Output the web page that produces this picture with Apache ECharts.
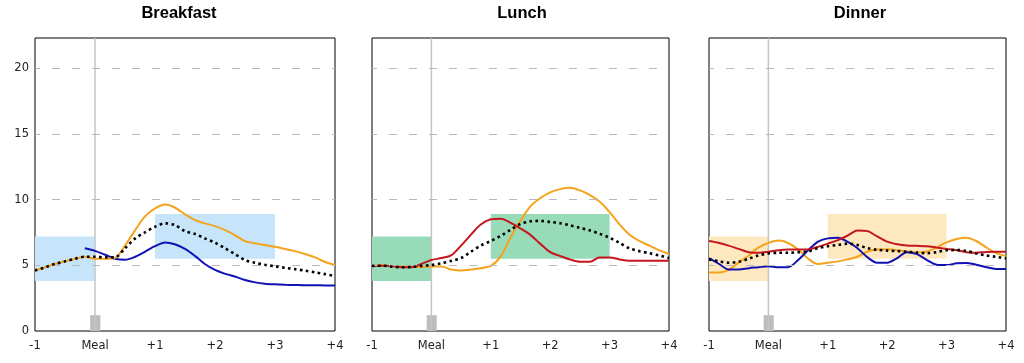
<!DOCTYPE html>
<html><head><meta charset="utf-8">
<script src="https://cdn.jsdelivr.net/npm/echarts@6/dist/echarts.min.js"></script>
<style>html,body{margin:0;padding:0;background:#fff}#c{width:1024px;height:363px}</style>
</head><body><div id="c"></div>
<script>
// ---- data ----
const times = [-1, -0.83, -0.67, -0.5, -0.33, -0.17, 0, 0.17, 0.33, 0.5, 0.67, 0.83, 1, 1.17, 1.33, 1.5, 1.67, 1.83, 2, 2.17, 2.33, 2.5, 2.67, 2.83, 3, 3.17, 3.33, 3.5, 3.67, 3.83, 4];
const xTickLabels = ['-1', 'Meal', '+1', '+2', '+3', '+4'];
const yTickValues = [0, 5, 10, 15, 20];
const gridLineValues = [5, 10, 15, 20];
const panelTitles = ['Breakfast', 'Lunch', 'Dinner'];
const mealTime = 0;
const yMax = 22.3;
const mealMarker = [-0.08, 0.09, 0, 1.2];      // x0, x1, y0, y1
const preMealTarget = [-1, 0, 3.8, 7.2];        // x0, x1, y0, y1
const postMealTarget = [1, 3, 5.5, 8.9];        // x0, x1, y0, y1

const breakfastOrange = [4.6, 4.85, 5.1, 5.3, 5.5, 5.65, 5.5, 5.5, 5.55, 6.5, 7.68, 8.7, 9.33, 9.63, 9.4, 8.87, 8.44, 8.19, 7.98, 7.68, 7.3, 6.84, 6.67, 6.54, 6.41, 6.24, 6.08, 5.86, 5.6, 5.27, 5.02];
const breakfastBlue = [null, null, null, null, null, 6.3, 6.1, 5.8, 5.5, 5.42, 5.65, 6.03, 6.46, 6.74, 6.6, 6.25, 5.7, 5.1, 4.65, 4.35, 4.15, 3.88, 3.7, 3.6, 3.55, 3.52, 3.5, 3.48, 3.48, 3.47, 3.47];
const breakfastAverage = [4.6, 4.85, 5.1, 5.3, 5.5, 5.65, 5.65, 5.6, 5.6, 6.3, 7.05, 7.5, 7.93, 8.19, 8.06, 7.6, 7.38, 7.05, 6.72, 6.29, 5.86, 5.4, 5.19, 5.04, 4.92, 4.81, 4.71, 4.59, 4.46, 4.33, 4.18];

const lunchOrange = [4.95, 5.0, 4.95, 4.9, 4.88, 4.88, 4.9, 4.9, 4.68, 4.6, 4.68, 4.78, 4.95, 5.7, 7.1, 8.4, 9.5, 10.1, 10.55, 10.8, 10.9, 10.7, 10.35, 9.85, 9.05, 8.1, 7.35, 6.85, 6.5, 6.15, 5.86];
const lunchRed = [4.95, 4.97, 4.95, 4.85, 4.85, 5.1, 5.4, 5.55, 5.75, 6.5, 7.35, 8.1, 8.5, 8.55, 8.25, 7.8, 7.3, 6.65, 6.0, 5.7, 5.45, 5.27, 5.27, 5.6, 5.6, 5.45, 5.35, 5.35, 5.35, 5.35, 5.35];
const lunchAverage = [4.95, 4.97, 4.9, 4.85, 4.88, 4.95, 5.02, 5.15, 5.33, 5.55, 6.05, 6.5, 6.85, 7.25, 7.7, 8.15, 8.35, 8.38, 8.3, 8.2, 8.05, 7.85, 7.65, 7.4, 7.1, 6.7, 6.3, 6.08, 5.92, 5.75, 5.55];

const dinnerOrange = [4.45, 4.45, 4.65, 5.2, 5.75, 6.35, 6.7, 6.88, 6.7, 6.2, 5.5, 5.1, 5.2, 5.3, 5.45, 5.65, 6.05, 6.2, 6.22, 6.15, 6.05, 5.97, 6.05, 6.35, 6.75, 7.0, 7.1, 6.85, 6.35, 5.95, 5.7];
const dinnerBlue = [5.55, 5.1, 4.68, 4.68, 4.78, 4.85, 4.93, 4.85, 4.85, 5.4, 6.15, 6.79, 7.05, 7.1, 6.8, 6.3, 5.6, 5.2, 5.2, 5.55, 6.0, 5.85, 5.4, 5.05, 5.02, 5.15, 5.18, 5.05, 4.85, 4.72, 4.71];
const dinnerRed = [6.85, 6.7, 6.5, 6.25, 6.0, 5.95, 6.03, 6.15, 6.2, 6.2, 6.2, 6.4, 6.65, 6.92, 7.25, 7.65, 7.6, 7.2, 6.8, 6.6, 6.5, 6.48, 6.45, 6.35, 6.25, 6.15, 6.0, 5.95, 6.02, 6.03, 6.03];
const dinnerAverage = [5.45, 5.3, 5.2, 5.27, 5.5, 5.75, 5.9, 5.95, 5.95, 6.0, 6.05, 6.3, 6.45, 6.55, 6.65, 6.55, 6.3, 6.18, 6.12, 6.08, 6.03, 5.97, 5.92, 6.0, 6.15, 6.16, 6.1, 5.9, 5.75, 5.65, 5.53];

// ---- styling / layout ----
const ORANGE = '#f5a21c', BLUE = '#1212b4', RED = '#c4161c';
const panels = [
  { left: 35, width: 300, center: 179, area: '#c6e4fa',
    lines: [[breakfastBlue, BLUE], [breakfastOrange, ORANGE], [breakfastAverage, null]] },
  { left: 372, width: 297, center: 522, area: '#98dbb9',
    lines: [[lunchOrange, ORANGE], [lunchRed, RED], [lunchAverage, null]] },
  { left: 709, width: 297, center: 860, area: '#fde8c0',
    lines: [[dinnerOrange, ORANGE], [dinnerBlue, BLUE], [dinnerRed, RED], [dinnerAverage, null]] }
];
const FONT = 'DejaVu Sans';

const option = { animation: false, title: [], grid: [], xAxis: [], yAxis: [], series: [] };
panels.forEach((p, i) => {
  option.title.push({ text: panelTitles[i], left: p.center, top: 5, padding: 0, textAlign: 'center',
    textStyle: { fontFamily: 'Liberation Sans', fontWeight: 'bold', fontSize: 16.5, color: '#000' } });
  option.grid.push({ left: p.left, top: 38, width: p.width, height: 293, show: true,
    borderColor: '#000', borderWidth: 1, backgroundColor: '#fff' });
  option.xAxis.push({ type: 'value', gridIndex: i, min: -1, max: 4, interval: 1,
    axisLine: { show: false }, axisTick: { show: false }, splitLine: { show: false },
    axisLabel: { margin: 9, fontFamily: FONT, fontSize: 11.5, color: '#222',
      formatter: v => xTickLabels[Math.round(v + 1)] || '' } });
  option.yAxis.push({ type: 'value', gridIndex: i, min: 0, max: yMax, interval: 5,
    axisLine: { show: false }, axisTick: { show: false }, splitLine: { show: false },
    axisLabel: { show: i === 0, margin: 6, fontFamily: FONT, fontSize: 11.5, color: '#222',
      formatter: v => yTickValues.indexOf(v) >= 0 ? String(v) : '' } });
  // target areas
  option.series.push({ type: 'line', xAxisIndex: i, yAxisIndex: i, z: 1, data: [], silent: true,
    markArea: { silent: true, data: [
      [{ xAxis: preMealTarget[0], yAxis: preMealTarget[2], itemStyle: { color: p.area } }, { xAxis: preMealTarget[1], yAxis: preMealTarget[3] }],
      [{ xAxis: postMealTarget[0], yAxis: postMealTarget[2], itemStyle: { color: p.area } }, { xAxis: postMealTarget[1], yAxis: postMealTarget[3] }]
    ] } });
  // grid lines + meal line + meal marker
  option.series.push({ type: 'line', xAxisIndex: i, yAxisIndex: i, z: 2, silent: true,
    data: [[mealTime, 0], [mealTime, yMax]], symbol: 'none',
    lineStyle: { color: '#c4c4c4', width: 1.5 },
    markLine: { silent: true, symbol: 'none', label: { show: false },
      lineStyle: { color: '#b8b8b8', width: 1, type: [8, 12], dashOffset: 3 },
      data: gridLineValues.map(v => ({ yAxis: v })) },
    markArea: { silent: true, data: [
      [{ xAxis: mealMarker[0], yAxis: mealMarker[2], itemStyle: { color: '#bdbdbd' } }, { xAxis: mealMarker[1], yAxis: mealMarker[3] }]
    ] } });
  p.lines.forEach(([vals, color], k) => {
    const avg = color === null;
    option.series.push({ type: 'line', xAxisIndex: i, yAxisIndex: i, z: 3 + k, silent: true,
      data: times.map((t, j) => [t, vals[j]]), symbol: 'none', smooth: 0.3, connectNulls: false,
      lineStyle: avg ? { color: '#000', width: 2.6, type: [2.6, 3.4], cap: 'butt' }
                     : { color: color, width: 2 } });
  });
});
const chart = echarts.init(document.getElementById('c'), null, { renderer: 'canvas' });
chart.setOption(option);
</script>
</body></html>
